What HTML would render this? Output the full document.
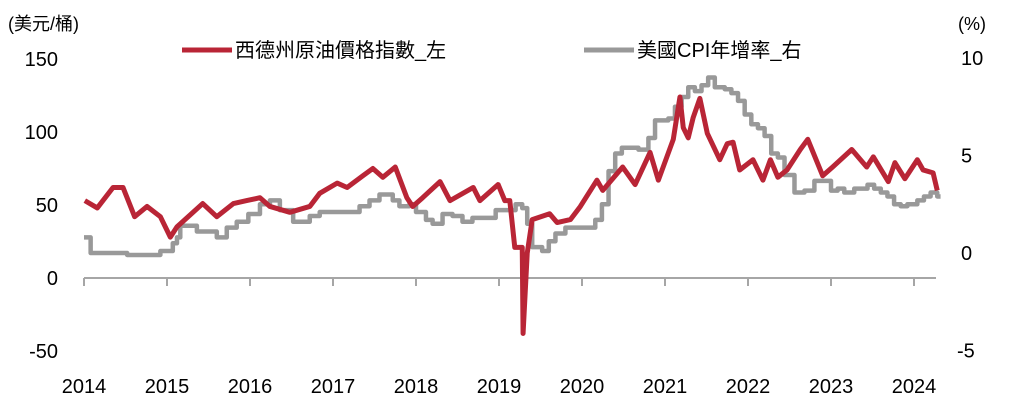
<!DOCTYPE html>
<html><head><meta charset="utf-8"><style>
body{margin:0;background:#fff;}
svg{display:block;font-family:"Liberation Sans","Noto Sans CJK TC",sans-serif;}
</style></head><body>
<svg id="c" width="1013" height="408">
<text x="8" y="30" font-size="18" fill="#000">(美元/桶)</text>
<text x="958" y="30" font-size="18" fill="#000">(%)</text>
<g>
<line x1="182" y1="50" x2="232" y2="50" stroke="#b92536" stroke-width="5"/>
<text x="235" y="57" font-size="20">西德州原油價格指數_左</text>
<line x1="584" y1="50" x2="634" y2="50" stroke="#999" stroke-width="5"/>
<text x="637" y="57" font-size="20">美國CPI年增率_右</text>
</g>
<g id="axes"></g>
<g id="series"></g>
</svg>
<script>
const leftTicks=[150,100,50,0,-50];
const rightTicks=[10,5,0,-5];
const yearLabels=[2014,2015,2016,2017,2018,2019,2020,2021,2022,2023,2024];
const oilDates=[0.01,0.16,0.35,0.47,0.61,0.76,0.92,1.04,1.12,1.43,1.60,1.80,1.96,2.12,2.24,2.48,2.72,2.84,3.05,3.17,3.36,3.48,3.60,3.75,3.89,3.96,4.08,4.29,4.41,4.69,4.77,4.99,5.07,5.13,5.19,5.28,5.29,5.34,5.40,5.61,5.70,5.86,5.98,6.18,6.25,6.49,6.64,6.82,6.92,7.10,7.18,7.22,7.28,7.34,7.42,7.51,7.66,7.75,7.82,7.90,8.06,8.18,8.27,8.36,8.47,8.63,8.72,8.90,9.02,9.25,9.43,9.51,9.69,9.77,9.89,10.04,10.11,10.23,10.28];
const oilValues=[53,48,62,62,42,49,42,28,35,51,42,51,53,55,49,45,49,58,65,62,70,75,69,76,55,49,55,66,53,62,53,64,53,53,21,21,-38,17,40,44,38,40,49,67,60,76,64,86,67,95,124,103,96,110,123,99,81,92,93,74,81,67,81,69,74,88,95,70,76,88,76,83,66,79,68,81,74,72,60];
const cpiDates=[0,0.08,0.52,0.92,1.07,1.12,1.16,1.36,1.60,1.72,1.84,1.98,2.12,2.24,2.36,2.52,2.72,2.84,3.00,3.16,3.32,3.44,3.56,3.72,3.80,3.92,4.00,4.12,4.20,4.32,4.44,4.56,4.68,4.84,4.96,5.20,5.28,5.34,5.40,5.52,5.60,5.68,5.80,6.00,6.16,6.24,6.32,6.40,6.48,6.68,6.80,6.88,7.04,7.12,7.20,7.28,7.36,7.44,7.52,7.60,7.72,7.80,7.88,7.96,8.04,8.12,8.20,8.28,8.36,8.44,8.56,8.68,8.80,8.88,9.00,9.08,9.16,9.28,9.44,9.52,9.60,9.68,9.76,9.84,9.92,10.04,10.12,10.20,10.28];
const cpiValues=[0.8,0.0,-0.1,0.1,0.5,0.8,1.4,1.1,0.8,1.3,1.6,2.0,2.5,2.7,2.2,1.6,1.9,2.1,2.1,2.1,2.4,2.7,3.0,2.7,2.4,2.5,2.1,1.7,1.5,2.0,1.9,1.6,1.8,1.8,2.2,2.5,2.3,1.5,0.3,0.1,0.6,1.0,1.3,1.3,1.7,2.5,4.2,5.1,5.4,5.3,5.9,6.8,6.9,7.5,8.0,8.5,8.3,8.6,9.0,8.5,8.4,8.2,7.8,7.1,6.6,6.4,6.0,5.1,4.9,4.0,3.1,3.2,3.7,3.7,3.2,3.3,3.1,3.3,3.5,3.3,3.1,2.9,2.5,2.4,2.5,2.7,2.9,3.1,2.9];
const NS="http://www.w3.org/2000/svg";
const xOf=t=>84+t*83;
const yL=v=>278-v*1.46;
const yR=v=>253-v*19.5;
const axes=document.getElementById('axes');
const ser=document.getElementById('series');
function mk(tag,attrs,parent){const e=document.createElementNS(NS,tag);for(const k in attrs)e.setAttribute(k,attrs[k]);parent.appendChild(e);return e;}
leftTicks.forEach(v=>{
 const t=mk('text',{x:58,y:yL(v)+7,'text-anchor':'end','font-size':20},axes);
 t.textContent=v;
 
 
});
rightTicks.forEach(v=>{
 const t=mk('text',{x:v<0?957:961,y:yR(v)+7,'font-size':20},axes);
 t.textContent=v;
 
 
});
const ax=mk('line',{x1:84,y1:yL(0),x2:936,y2:yL(0),stroke:'#a6a6a6','stroke-width':2},axes);


yearLabels.forEach((yr,i)=>{
 const tk=mk('line',{x1:xOf(i),y1:yL(0),x2:xOf(i),y2:yL(0)+8,stroke:'#a6a6a6','stroke-width':2},axes);
 
 
 const t=mk('text',{x:xOf(i),y:393,'text-anchor':'middle','font-size':20},axes);
 t.textContent=yr;
 
 
});
let d='';
cpiDates.forEach((t,i)=>{
 const x=xOf(t),y=yR(cpiValues[i]);
 if(i===0)d='M'+x+','+y;else d+=' H'+x+' V'+y;
});
d+=' H'+xOf(10.32);
const cp=mk('path',{d:d,fill:'none',stroke:'#999','stroke-width':4.5,'stroke-linejoin':'round'},ser);


const od=oilDates.map((t,i)=>(i?'L':'M')+xOf(t)+','+yL(oilValues[i])).join(' ');
const op=mk('path',{d:od,fill:'none',stroke:'#b92536','stroke-width':5,'stroke-linejoin':'round'},ser);


</script>
</body></html>
